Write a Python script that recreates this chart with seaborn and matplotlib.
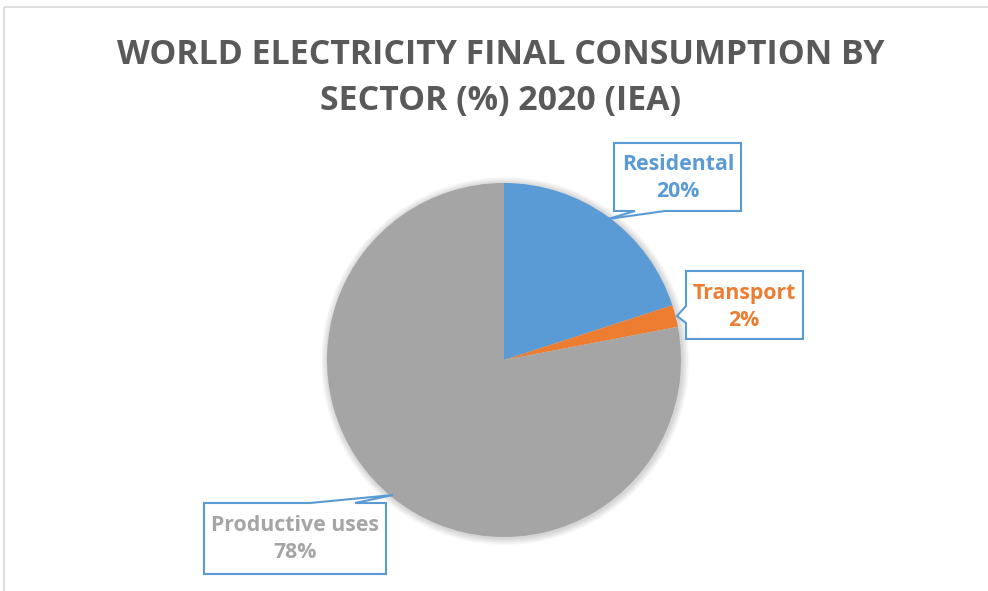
import numpy as np
import matplotlib
matplotlib.use("Agg")
import matplotlib.pyplot as plt
import seaborn as sns
from matplotlib.patches import Polygon, Rectangle, Circle

sectors = ["Residental", "Transport", "Productive uses"]
shares = [20, 2, 78]
colors = ["#5B9BD5", "#ED7D31", "#A5A5A5"]
title = "WORLD ELECTRICITY FINAL CONSUMPTION BY\nSECTOR (%) 2020 (IEA)"

sns.set_style("white")
plt.rcParams["font.family"] = ["Open Sans", "DejaVu Sans"]

W, H = 988, 591
fig = plt.figure(figsize=(W / 100, H / 100), dpi=100)
ax = fig.add_axes([0, 0, 1, 1])

cx, cy, r = 504, 360, 177

# soft shadow around the pie
for k in range(1, 8):
    ax.add_patch(Circle((cx + 1, cy + 1), r + k, color="black", alpha=0.022, lw=0, zorder=1))

# y axis gets inverted below, so start at -90 to begin at the top, drawn clockwise on screen
ax.pie(shares, colors=colors, startangle=-90, counterclock=True, center=(cx, cy),
       radius=r, wedgeprops=dict(lw=0, zorder=2), frame=True)
ax.set_xlim(0, W)
ax.set_ylim(H, 0)
ax.set_aspect("equal")
ax.axis("off")

# chart frame (cropped at right / bottom)
ax.add_patch(Rectangle((3.5, 6.5), W + 10, H + 10, fill=False, ec="#D9D9D9", lw=1.2))

box_ec = "#5B9BD5"
callouts = [
    [(614, 143), (741, 143), (741, 211), (665, 211), (608, 219), (635, 211), (614, 211)],
    [(686, 271), (803, 271), (803, 339), (686, 339), (686, 323), (677, 316), (686, 306)],
    [(204, 503), (310, 503), (393, 495), (355, 503), (386, 503), (386, 574), (204, 574)],
]
label_xy = [(678, 178), (744, 307), (295, 539)]
for pts, (lx, ly), name, val, col in zip(callouts, label_xy, sectors, shares, colors):
    ax.add_patch(Polygon(pts, closed=True, fc="white", ec=box_ec, lw=1.5, zorder=3))
    ax.text(lx, ly, f"{name}\n{val}%", ha="center", va="center", color=col,
            fontsize=15.3, fontweight="bold", linespacing=1.4, zorder=4)

ax.text(501, 78, title, ha="center", va="center", color="#595959",
        fontsize=24.4, fontweight="bold", linespacing=1.45)

fig.savefig("out.png", dpi=100)
